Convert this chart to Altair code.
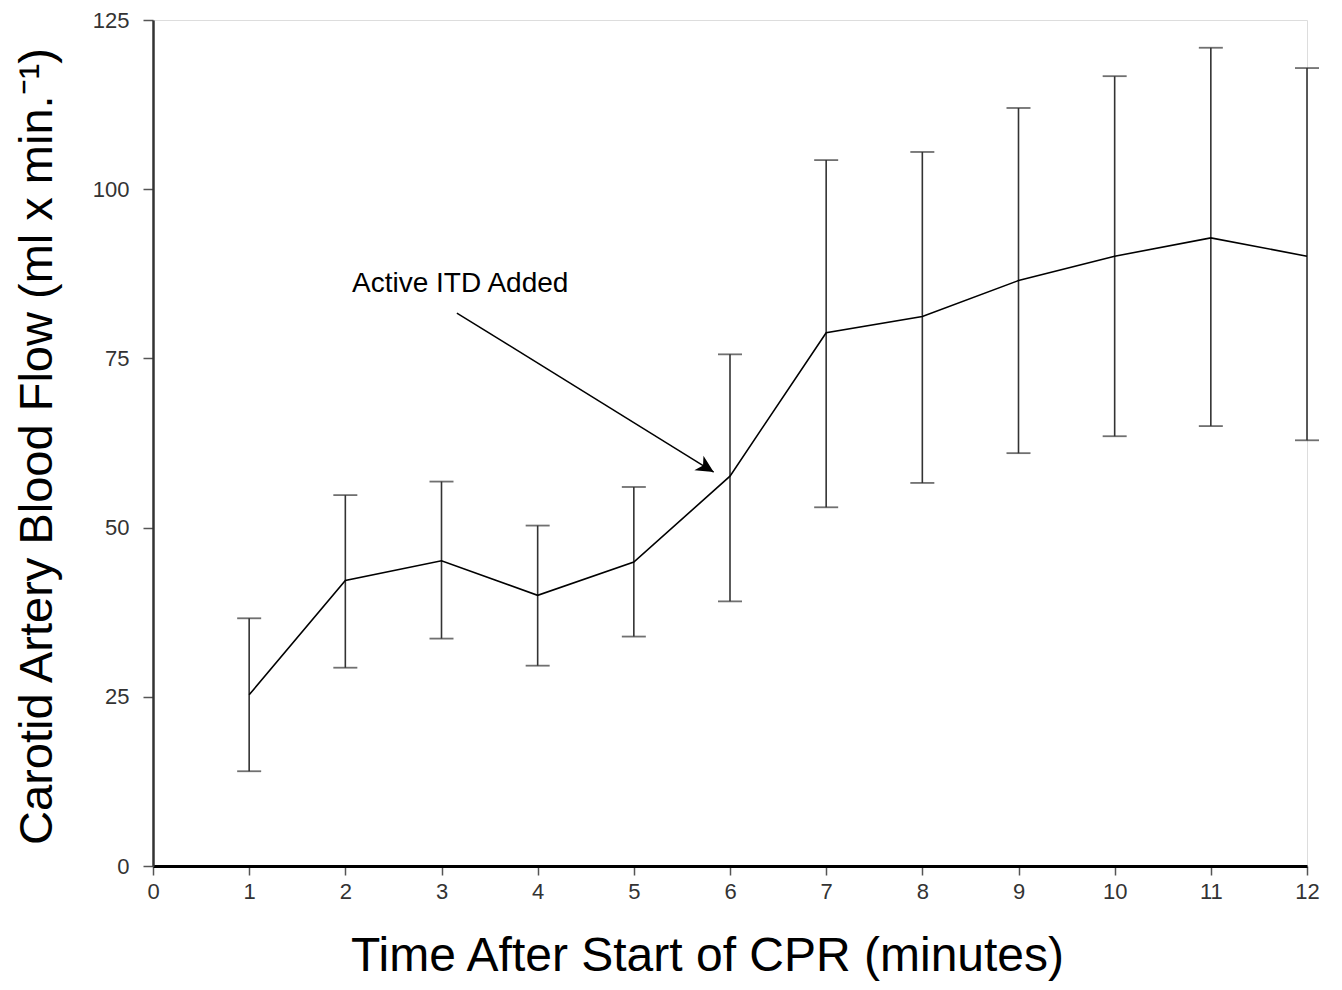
import altair as alt
import pandas as pd

# Data
minutes = [1, 2, 3, 4, 5, 6, 7, 8, 9, 10, 11, 12]
mean_flow = [25.3, 42.2, 45.1, 40.0, 44.9, 57.6, 78.8, 81.2, 86.5, 90.1, 92.8, 90.1]
upper_flow = [36.6, 54.8, 56.8, 50.3, 56.0, 75.6, 104.3, 105.5, 112.0, 116.7, 120.9, 117.9]
lower_flow = [14.0, 29.3, 33.6, 29.6, 33.9, 39.1, 53.0, 56.6, 61.0, 63.5, 65.0, 62.9]

x_ticks = list(range(0, 13))
y_ticks = [0, 25, 50, 75, 100, 125]

annot_text = ["Active ITD Added"]
annot_x = [2.07]
annot_y = [86.0]
arrow_start = [3.16, 81.7]
arrow_end = [5.83, 58.2]
arrow_angle = [31.7]

FONT = "Liberation Sans"

df = pd.DataFrame({"t": minutes, "m": mean_flow, "hi": upper_flow, "lo": lower_flow})
df_txt = pd.DataFrame({"x": annot_x, "y": annot_y, "label": annot_text})
df_arrow = pd.DataFrame({"x": [arrow_start[0]], "y": [arrow_start[1]],
                         "x2": [arrow_end[0]], "y2": [arrow_end[1]]})
df_head = pd.DataFrame({"x": [arrow_end[0]], "y": [arrow_end[1]], "a": arrow_angle})

xscale = alt.Scale(domain=[0, 12], nice=False, zero=False)
yscale = alt.Scale(domain=[0, 125], nice=False)

xaxis = alt.Axis(values=x_ticks, format="d", title="Time After Start of CPR (minutes)", grid=False,
                 domainColor="black", domainWidth=3, tickColor="#555", tickWidth=1.5,
                 tickSize=9, labelFont=FONT, labelFontSize=22, labelColor="#333",
                 labelPadding=6, titleFont=FONT, titleFontSize=48, titleFontWeight="normal",
                 titleColor="black", titleX=554, titleY=104, titleAlign="center",
                 titleBaseline="alphabetic", labelFlush=False)
yaxis = alt.Axis(values=y_ticks, format="d", title="Carotid Artery Blood Flow (ml x min.⁻¹)", grid=False,
                 domainColor="#333", domainWidth=2.5, tickColor="#555", tickWidth=1.5,
                 tickSize=10, labelFont=FONT, labelFontSize=22, labelColor="#333",
                 labelPadding=14, titleFont=FONT, titleFontSize=47, titleFontWeight="normal",
                 titleColor="black", titleX=-116, titleY=426, titleAngle=270,
                 titleAlign="center", titleBaseline="middle", labelFlush=False)

base = alt.Chart(df)

bars = base.mark_rule(color="#333", strokeWidth=1.6).encode(
    x=alt.X("t:Q", scale=xscale, axis=xaxis),
    y=alt.Y("lo:Q", scale=yscale, axis=yaxis),
    y2="hi:Q",
)
cap_hi = base.mark_tick(color="#333", thickness=1.8, size=24, orient="horizontal").encode(
    x=alt.X("t:Q", scale=xscale), y=alt.Y("hi:Q", scale=yscale))
cap_lo = base.mark_tick(color="#333", thickness=1.8, size=24, orient="horizontal").encode(
    x=alt.X("t:Q", scale=xscale), y=alt.Y("lo:Q", scale=yscale))

line = base.mark_line(color="black", strokeWidth=1.6).encode(
    x=alt.X("t:Q", scale=xscale), y=alt.Y("m:Q", scale=yscale))

txt = alt.Chart(df_txt).mark_text(align="left", baseline="middle", font=FONT,
                                  fontSize=28, color="black").encode(
    x=alt.X("x:Q", scale=xscale), y=alt.Y("y:Q", scale=yscale), text="label:N")

arrow = alt.Chart(df_arrow).mark_rule(color="black", strokeWidth=1.5).encode(
    x=alt.X("x:Q", scale=xscale), y=alt.Y("y:Q", scale=yscale), x2="x2:Q", y2="y2:Q")

head = alt.Chart(df_head).mark_point(
    shape="M0,0L-1,-0.5L-0.72,0L-1,0.5Z", filled=True, color="black", opacity=1,
    size=1200, strokeWidth=0).encode(
    x=alt.X("x:Q", scale=xscale), y=alt.Y("y:Q", scale=yscale),
    angle=alt.Angle("a:Q", scale=None))

chart = alt.layer(bars, cap_hi, cap_lo, line, arrow, head, txt).properties(
    width=1154, height=846,
    autosize=alt.AutoSizeParams(type="none"),
    padding={"left": 145, "top": 12, "right": 20, "bottom": 116},
).configure_view(strokeWidth=0, stroke="transparent").configure(background="white")

chart.save("out.html", embed_options={"renderer": "svg", "actions": False})
